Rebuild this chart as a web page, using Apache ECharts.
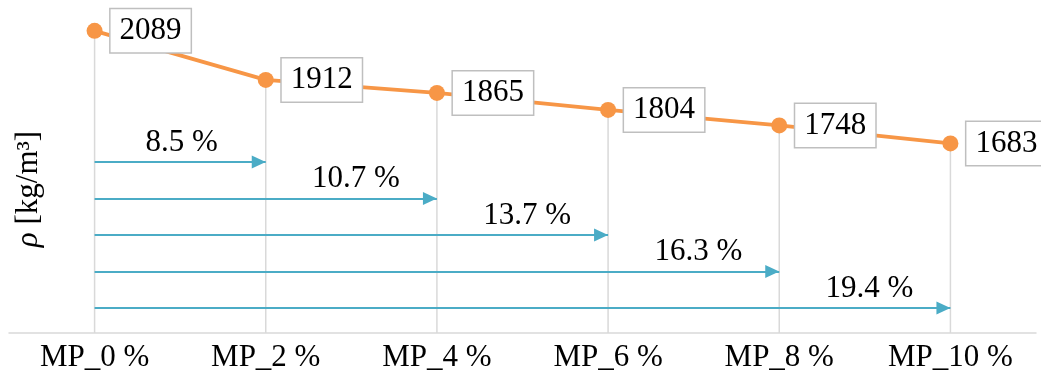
<!DOCTYPE html>
<html>
<head>
<meta charset="utf-8">
<script src="https://cdn.jsdelivr.net/npm/echarts@6/dist/echarts.min.js"></script>
<style>
  html, body { margin: 0; padding: 0; background: #fff; }
  #chart { width: 1041px; height: 383px; }
</style>
</head>
<body>
<div id="chart"></div>
<script>
// Density of each mixture
const categories = ['MP_0 %', 'MP_2 %', 'MP_4 %', 'MP_6 %', 'MP_8 %', 'MP_10 %'];
const density = [2089, 1912, 1865, 1804, 1748, 1683];
// Reduction relative to MP_0 %, one arrow per mixture after the first
const reductionLabels = ['8.5 %', '10.7 %', '13.7 %', '16.3 %', '19.4 %'];

const FONT = 'Liberation Serif';
const FS = 31;
const yMin = 1000, yMax = 2200;

// Arrows are stacked evenly under the curve, the longest at the bottom
const arrowBase = 1090, arrowStep = 131.5;
const arrows = reductionLabels.map((txt, i) => {
  const level = arrowBase + (reductionLabels.length - 1 - i) * arrowStep;
  return [
    { coord: [categories[0], level] },
    {
      coord: [categories[i + 1], level],
      label: { formatter: txt, distance: [i === 0 ? 48 : 37, 4] }
    }
  ];
});

const chart = echarts.init(document.getElementById('chart'));
chart.setOption({
  animation: false,
  grid: { left: 9, right: 5, top: 0, bottom: 50, containLabel: false },
  xAxis: {
    type: 'category',
    data: categories,
    boundaryGap: true,
    axisLine: { lineStyle: { color: '#d9d9d9', width: 1.5 } },
    axisTick: { show: false },
    axisLabel: { color: '#000', fontFamily: FONT, fontSize: FS, margin: 9 },
    splitLine: { show: false }
  },
  yAxis: {
    type: 'value',
    min: yMin,
    max: yMax,
    axisLine: { show: false },
    axisTick: { show: false },
    axisLabel: { show: false },
    splitLine: { show: false }
  },
  graphic: [{
    type: 'text',
    x: 29,
    y: 189,
    rotation: Math.PI / 2,
    style: {
      text: '{i|ρ} [kg/m³]',
      fill: '#000',
      font: FS + 'px "Liberation Serif"',
      align: 'center',
      verticalAlign: 'middle',
      rich: {
        i: { fontStyle: 'italic', fontFamily: FONT, fontSize: FS, fill: '#000' }
      }
    }
  }],
  series: [
    {
      // drop lines from each point to the axis
      type: 'bar',
      data: density,
      barWidth: 1.5,
      itemStyle: { color: '#d9d9d9' },
      silent: true,
      z: 1,
      markLine: {
        silent: true,
        symbol: ['none', 'triangle'],
        symbolSize: [13, 14],
        symbolOffset: [0, [0, 7]],
        lineStyle: { color: '#4bacc6', width: 1.8, type: 'solid' },
        label: {
          show: true,
          position: 'insideEndTop',
          color: '#000',
          fontFamily: FONT,
          fontSize: FS
        },
        data: arrows
      }
    },
    {
      type: 'line',
      data: density,
      z: 3,
      symbol: 'circle',
      symbolSize: 16,
      lineStyle: { color: '#f79646', width: 3.8 },
      itemStyle: { color: '#f79646' },
      label: {
        show: true,
        position: 'right',
        distance: 8,
        color: '#000',
        fontFamily: FONT,
        fontSize: FS,
        backgroundColor: '#fff',
        borderColor: '#bfbfbf',
        borderWidth: 1.5,
        padding: [7, 9, 5, 9]
      }
    }
  ]
});
</script>
</body>
</html>
